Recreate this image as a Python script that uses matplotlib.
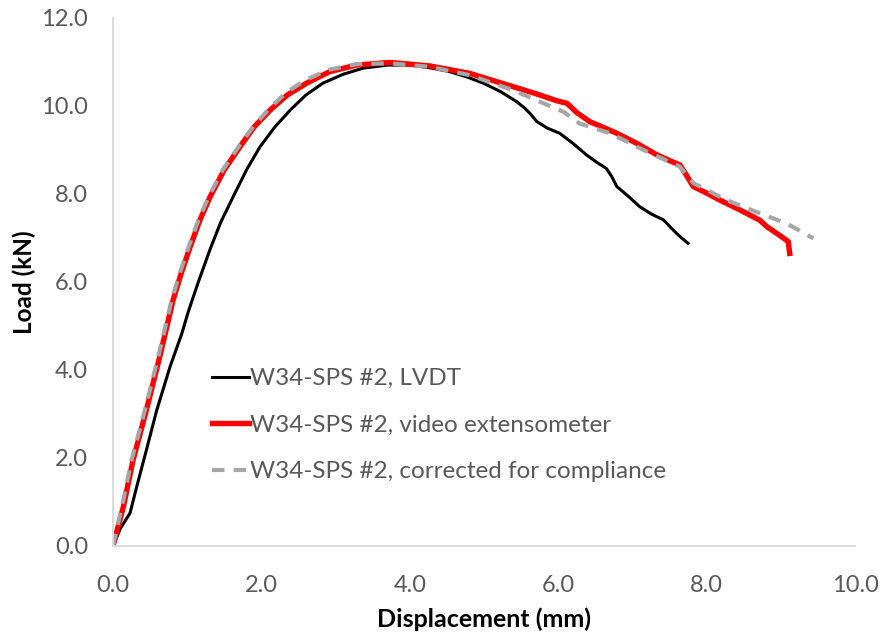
import matplotlib
matplotlib.use("Agg")
import matplotlib.pyplot as plt

plt.rcParams['font.family'] = ['Lato', 'DejaVu Sans']

# Load-displacement curves, W34-SPS specimen #2
lvdt_x = [0.0, 0.1, 0.23, 0.32, 0.45, 0.59, 0.77, 0.93, 1.01, 1.15, 1.31, 1.45, 1.62,
          1.8, 1.98, 2.18, 2.39, 2.6, 2.83, 3.1, 3.37, 3.7, 4.0, 4.3, 4.54, 4.77, 4.99,
          5.22, 5.44, 5.55, 5.62, 5.71, 5.85, 6.02, 6.2, 6.38, 6.52, 6.65, 6.72, 6.79,
          6.95, 7.1, 7.25, 7.42, 7.55, 7.65, 7.75]
lvdt_y = [0.0, 0.4, 0.75, 1.35, 2.18, 3.09, 4.08, 4.84, 5.3, 6.0, 6.75, 7.35, 7.94,
          8.55, 9.07, 9.52, 9.91, 10.25, 10.52, 10.72, 10.86, 10.93, 10.93, 10.86, 10.78,
          10.66, 10.52, 10.33, 10.1, 9.95, 9.83, 9.65, 9.5, 9.38, 9.15, 8.89, 8.72, 8.58,
          8.4, 8.17, 7.94, 7.71, 7.55, 7.41, 7.18, 7.02, 6.88]

video_x = [0.0, 0.07, 0.14, 0.27, 0.45, 0.63, 0.81, 0.92, 1.04, 1.17, 1.31, 1.5, 1.71,
           1.9, 2.12, 2.35, 2.61, 2.92, 3.28, 3.73, 4.27, 4.81, 5.39, 5.7, 5.98, 6.12,
           6.25, 6.43, 6.6, 6.79, 7.06, 7.33, 7.5, 7.64, 7.72, 7.82, 8.0, 8.18, 8.4, 8.63,
           8.72, 8.81, 8.95, 9.1, 9.12]
video_y = [0.0, 0.45, 0.89, 1.95, 3.09, 4.3, 5.59, 6.2, 6.8, 7.4, 7.94, 8.55, 9.07,
           9.52, 9.91, 10.25, 10.52, 10.78, 10.93, 10.99, 10.91, 10.74, 10.44, 10.28, 10.12,
           10.06, 9.85, 9.64, 9.52, 9.38, 9.15, 8.89, 8.76, 8.66, 8.45, 8.17, 8.02, 7.86,
           7.68, 7.48, 7.4, 7.26, 7.1, 6.92, 6.65]

corr_x = [0.0, 0.06, 0.12, 0.25, 0.43, 0.61, 0.79, 0.9, 1.02, 1.15, 1.29, 1.48, 1.69,
          1.89, 2.1, 2.33, 2.58, 2.9, 3.28, 3.73, 4.27, 4.81, 5.39, 5.75, 6.07, 6.29, 6.7,
          7.15, 7.64, 7.82, 8.27, 8.72, 9.08, 9.44]
corr_y = [0.0, 0.45, 0.89, 1.95, 3.09, 4.3, 5.59, 6.2, 6.8, 7.4, 7.94, 8.55, 9.07,
          9.53, 9.93, 10.3, 10.58, 10.82, 10.95, 10.97, 10.89, 10.7, 10.36, 10.1, 9.87,
          9.6, 9.38, 9.0, 8.62, 8.25, 7.86, 7.56, 7.33, 6.99]

labels = ["W34-SPS #2, LVDT",
          "W34-SPS #2, video extensometer",
          "W34-SPS #2, corrected for compliance"]

x_ticks = [0, 2, 4, 6, 8, 10]
y_ticks = [0, 2, 4, 6, 8, 10, 12]

fig = plt.figure(figsize=(8.83, 6.34), dpi=100)
ax = fig.add_axes([113 / 883, 88 / 634, 742 / 883, 528 / 634])

ax.plot(lvdt_x, lvdt_y, color='black', lw=2.2, label=labels[0], solid_joinstyle='round')
ax.plot(video_x, video_y, color='#ff0000', lw=3.9, label=labels[1], solid_joinstyle='round')
ax.plot(corr_x, corr_y, color='#a6a6a6', lw=3.0, dashes=(3, 2.2), label=labels[2])

ax.set_xlim(0, 10)
ax.set_ylim(0, 12)
ax.set_xticks(x_ticks)
ax.set_yticks(y_ticks)
ax.set_xticklabels([f"{v:.1f}" for v in x_ticks])
ax.set_yticklabels([f"{v:.1f}" for v in y_ticks])
ax.tick_params(length=0, labelsize=17, labelcolor='#595959')
ax.tick_params(axis='x', pad=21)
ax.tick_params(axis='y', pad=18)

for side in ('top', 'right'):
    ax.spines[side].set_visible(False)
for side in ('left', 'bottom'):
    ax.spines[side].set_color('#d9d9d9')
    ax.spines[side].set_linewidth(1.3)

ax.set_xlabel("Displacement (mm)", fontsize=18, fontweight='bold', color='black', labelpad=8)
ax.set_ylabel("Load (kN)", fontsize=17.5, fontweight='bold', color='black', labelpad=4)

leg = ax.legend(loc='upper left', bbox_to_anchor=(0.134, 0.337), frameon=False,
                fontsize=17.5, handlelength=1.5, handletextpad=0.05, labelspacing=1.05,
                borderaxespad=0, borderpad=0)
for t in leg.get_texts():
    t.set_color('#595959')

fig.savefig("out.png", dpi=100)
